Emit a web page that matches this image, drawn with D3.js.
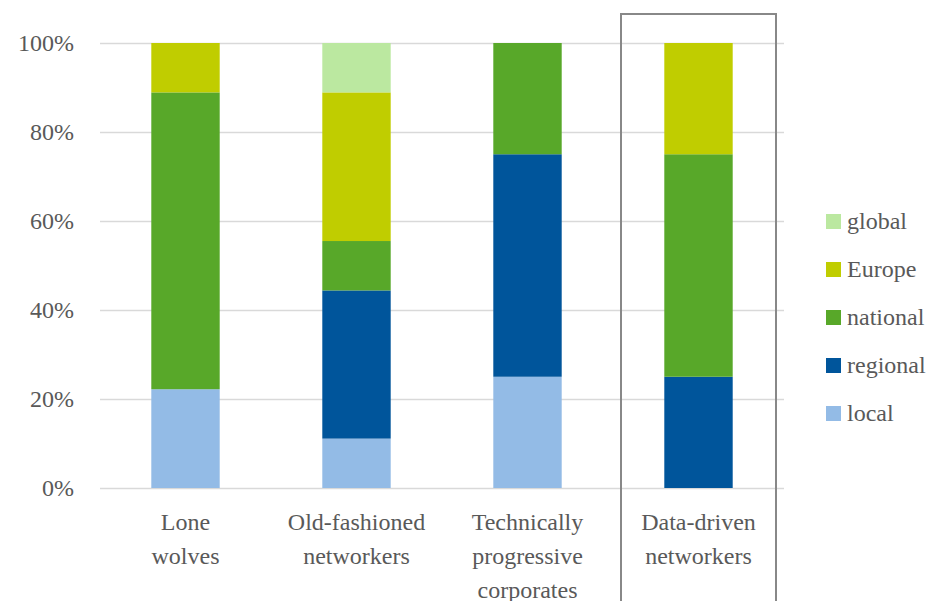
<!DOCTYPE html>
<html>
<head>
<meta charset="utf-8">
<script src="https://cdn.jsdelivr.net/npm/d3@7"></script>
<style>
  text { font-family: Tinos, "Liberation Serif", "Times New Roman", serif !important; }
</style>
</head>
<body style="margin:0">
<svg id="chart" width="947" height="601"></svg>
<script>
// Share of each market scope per networking type (percent of group)
const categories = [
  ["Lone", "wolves"],
  ["Old-fashioned", "networkers"],
  ["Technically", "progressive", "corporates"],
  ["Data-driven", "networkers"]
];
const seriesNames = ["local", "regional", "national", "Europe", "global"];
const local    = [22.2, 11.1, 25, 0];
const regional = [0, 33.3, 50, 25];
const national = [66.7, 11.1, 25, 50];
const europe   = [11.1, 33.4, 0, 25];
const global   = [0, 11.1, 0, 0];
const seriesColors = ["#93bbe6", "#00559b", "#58a829", "#c0cd00", "#bbe8a0"];
const yTicks = [0, 20, 40, 60, 80, 100];
const highlighted = 3;

const svg = d3.select("#chart");
const margin = { left: 100, right: 163, top: 43, bottom: 113 };
const W = 947, H = 601;
const FONT = "Tinos";
const TEXT = "#595959";

const rows = categories.map((c, i) => ({
  key: i,
  local: local[i], regional: regional[i], national: national[i],
  Europe: europe[i], global: global[i]
}));

const x = d3.scaleBand()
  .domain(d3.range(categories.length))
  .range([margin.left, W - margin.right])
  .paddingInner(0.6).paddingOuter(0.3);
const y = d3.scaleLinear().domain([0, 100]).range([H - margin.bottom, margin.top]);
const color = d3.scaleOrdinal().domain(seriesNames).range(seriesColors);

// Gridlines and y axis labels
const yAxis = d3.axisLeft(y).tickValues(yTicks).tickFormat(d => d + "%")
  .tickSize(-(W - margin.right - margin.left)).tickPadding(26);
const ya = svg.append("g").attr("transform", `translate(${margin.left},0)`).call(yAxis);
ya.select(".domain").remove();
ya.selectAll(".tick line").attr("stroke", "#d9d9d9").attr("stroke-width", 1.5);
ya.selectAll(".tick text")
  .attr("fill", TEXT).attr("font-family", FONT).attr("font-size", 24);

// Stacked bars
const stacked = d3.stack().keys(seriesNames)(rows);
svg.append("g").selectAll("g").data(stacked).join("g")
  .attr("fill", s => color(s.key))
  .selectAll("rect").data(s => s).join("rect")
  .attr("x", d => x(d.data.key))
  .attr("width", x.bandwidth())
  .attr("y", d => y(d[1]))
  .attr("height", d => y(d[0]) - y(d[1]));

// Category labels, one text element per line
categories.forEach((lines, i) => {
  lines.forEach((ln, j) => svg.append("text")
    .attr("x", x(i) + x.bandwidth() / 2)
    .attr("y", 530 + j * 34)
    .attr("text-anchor", "middle")
    .attr("font-family", FONT).attr("font-size", 24).attr("fill", TEXT)
    .text(ln));
});

// Frame around the highlighted group
const cx = x(highlighted) + x.bandwidth() / 2;
svg.append("rect")
  .attr("x", cx - 77.5).attr("y", 14)
  .attr("width", 155).attr("height", H)
  .attr("fill", "none").attr("stroke", "#888").attr("stroke-width", 2);

// Legend (top entry is the top of the stack)
seriesNames.slice().reverse().forEach((name, i) => {
  const gy = 221 + i * 48;
  svg.append("rect").attr("x", 826).attr("y", gy - 7)
    .attr("width", 15).attr("height", 15).attr("fill", color(name));
  svg.append("text").attr("x", 847).attr("y", gy + 8)
    .attr("font-family", FONT).attr("font-size", 24).attr("fill", TEXT)
    .text(name);
});
</script>
</body>
</html>
